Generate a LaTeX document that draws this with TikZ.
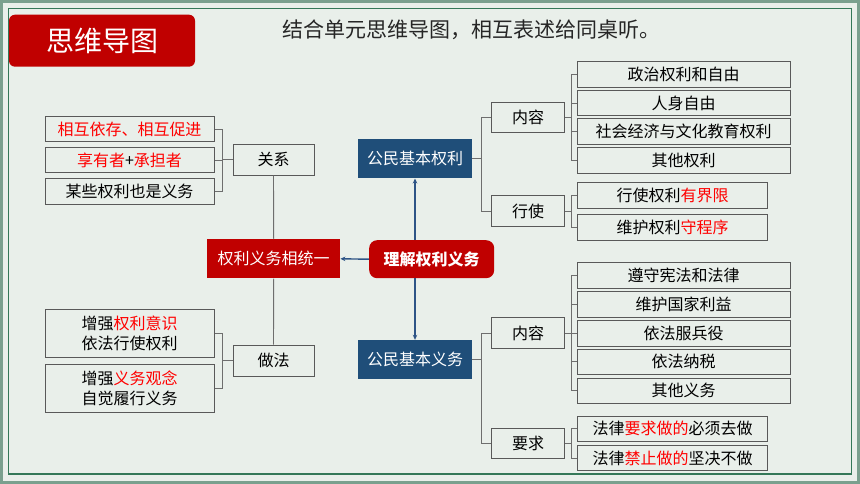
\documentclass[tikz,border=0pt]{standalone}
\usepackage{fontspec}
\setmainfont{Noto Sans CJK SC}
\usetikzlibrary{arrows.meta}
\definecolor{bgcol}{RGB}{233,239,234}
\definecolor{framegray}{RGB}{122,160,142}
\definecolor{framegreen}{RGB}{52,120,88}
\definecolor{boxred}{RGB}{192,0,0}
\definecolor{hired}{RGB}{255,0,0}
\definecolor{boxblue}{RGB}{31,78,121}
\definecolor{arrblue}{RGB}{46,84,134}
\definecolor{edgegray}{RGB}{89,89,89}
\definecolor{linkgray}{RGB}{110,110,110}
\newcommand{\hl}[1]{\textcolor{hired}{#1}}
\tikzset{
  itembox/.style={draw=edgegray, line width=1pt, inner sep=0pt, minimum height=25.6pt,
    font=\fontsize{16}{20}\selectfont},
  keybox/.style={draw=edgegray, line width=1pt, inner sep=0pt, minimum width=81pt,
    minimum height=31pt, font=\fontsize{16}{20}\selectfont},
  redbox/.style={fill=boxred, text=white, inner sep=0pt, font=\fontsize{16}{20}\selectfont},
  bluebox/.style={fill=boxblue, text=white, inner sep=0pt, minimum width=113.4pt,
    minimum height=39pt, font=\fontsize{16}{20}\selectfont},
  link/.style={draw=linkgray, line width=0.9pt},
  arr/.style={draw=arrblue, line width=1.4pt, -{Stealth[length=5pt,width=4.5pt]}}
}
\begin{document}
\begin{tikzpicture}[x=1pt,y=-1pt]
    \fill[bgcol] (0,0) rectangle (860,484);
    \draw[framegray, line width=3pt] (1.5,1.5) rectangle (858.5,482.5);
    \draw[framegreen, line width=1.2pt] (8.5,8.5) rectangle (851.5,474);
    \node[fill=boxred, rounded corners=6pt, minimum width=186pt, minimum height=52pt, text=white,
      font=\fontsize{28}{32}\selectfont] (head) at (102,40.7) {思维导图};
    \node[font=\fontsize{21}{24}\selectfont, text=black!85] (task) at (471,30) {结合单元思维导图，相互表述给同桌听。};
    \node[redbox, rounded corners=8pt, minimum width=125pt, minimum height=38pt,
      font=\fontsize{16}{20}\bfseries\selectfont] (lijie) at (431.7,259.2) {理解权利义务};
    \node[redbox, minimum width=133pt, minimum height=39pt] (tongyi) at (273.7,258.8) {权利义务相统一};
    \node[bluebox] (quanli) at (415,158.8) {公民基本权利};
    \node[bluebox] (yiwu) at (415,359.5) {公民基本义务};
    \node[keybox] (guanxi) at (273.5,159.7) {关系};
    \node[keybox] (zuofa) at (273.5,360.5) {做法};
    \node[itembox, minimum width=169pt] (gx1) at (129.5,129) {\hl{相互依存、相互促进}};
    \node[itembox, minimum width=169pt] (gx2) at (129.5,160) {\hl{享有者}+\hl{承担者}};
    \node[itembox, minimum width=169pt] (gx3) at (129.5,191.5) {某些权利也是义务};
    \node[itembox, minimum width=169pt, minimum height=48pt, align=center] (zf1) at (129.5,333) {增强\hl{权利意识}\\依法行使权利};
    \node[itembox, minimum width=169pt, minimum height=48pt, align=center] (zf2) at (129.5,388.3) {增强\hl{义务观念}\\自觉履行义务};
    \node[keybox, minimum width=72.6pt, minimum height=30.5pt] (nr1) at (528,117.5) {内容};
    \node[keybox, minimum width=72.6pt, minimum height=30.5pt] (xs) at (528,211) {行使};
    \node[keybox, minimum width=72.6pt, minimum height=30.5pt] (nr2) at (528,333.2) {内容};
    \node[keybox, minimum width=72.6pt, minimum height=30.5pt] (yq) at (528,443.7) {要求};
    \node[itembox, minimum width=212.7pt] (ql1) at (683.7,74.5) {政治权利和自由};
    \node[itembox, minimum width=212.7pt] (ql2) at (683.7,103.2) {人身自由};
    \node[itembox, minimum width=212.7pt] (ql3) at (683.7,131.8) {社会经济与文化教育权利};
    \node[itembox, minimum width=212.7pt] (ql4) at (683.7,160.5) {其他权利};
    \node[itembox, minimum width=190.4pt] (xs1) at (672.5,195.5) {行使权利\hl{有界限}};
    \node[itembox, minimum width=190.4pt] (xs2) at (672.5,227.2) {维护权利\hl{守程序}};
    \node[itembox, minimum width=212.7pt] (yw1) at (683.7,275.5) {遵守宪法和法律};
    \node[itembox, minimum width=212.7pt] (yw2) at (683.7,304.3) {维护国家利益};
    \node[itembox, minimum width=212.7pt] (yw3) at (683.7,333.2) {依法服兵役};
    \node[itembox, minimum width=212.7pt] (yw4) at (683.7,361.8) {依法纳税};
    \node[itembox, minimum width=212.7pt] (yw5) at (683.7,390.8) {其他义务};
    \node[itembox, minimum width=190.4pt] (yq1) at (672.5,428.8) {法律\hl{要求做的}必须去做};
    \node[itembox, minimum width=190.4pt] (yq2) at (672.5,458) {法律\hl{禁止做的}坚决不做};
    \draw[arr] (lijie.west) -- (tongyi.east);
    \draw[arr] (quanli.south |- lijie.north) -- (quanli.south);
    \draw[arr] (yiwu.north |- lijie.south) -- (yiwu.north);
    \draw[link] (guanxi.south) -- (tongyi.north);
    \draw[link] (tongyi.south) -- (zuofa.north);
    \foreach \k in {gx1,gx2,gx3} \draw[link] (guanxi.west) -- ++(-10,0) |- (\k.east);
    \foreach \k in {zf1,zf2} \draw[link] (zuofa.west) -- ++(-10,0) |- (\k.east);
    \foreach \k in {nr1,xs} \draw[link] (quanli.east) -- ++(10,0) |- (\k.west);
    \foreach \k in {nr2,yq} \draw[link] (yiwu.east) -- ++(10,0) |- (\k.west);
    \foreach \k in {ql1,ql2,ql3,ql4} \draw[link] (nr1.east) -- ++(6.5,0) |- (\k.west);
    \foreach \k in {xs1,xs2} \draw[link] (xs.east) -- ++(6.5,0) |- (\k.west);
    \foreach \k in {yw1,yw2,yw3,yw4,yw5} \draw[link] (nr2.east) -- ++(6.5,0) |- (\k.west);
    \foreach \k in {yq1,yq2} \draw[link] (yq.east) -- ++(6.5,0) |- (\k.west);
\end{tikzpicture}
\end{document}
